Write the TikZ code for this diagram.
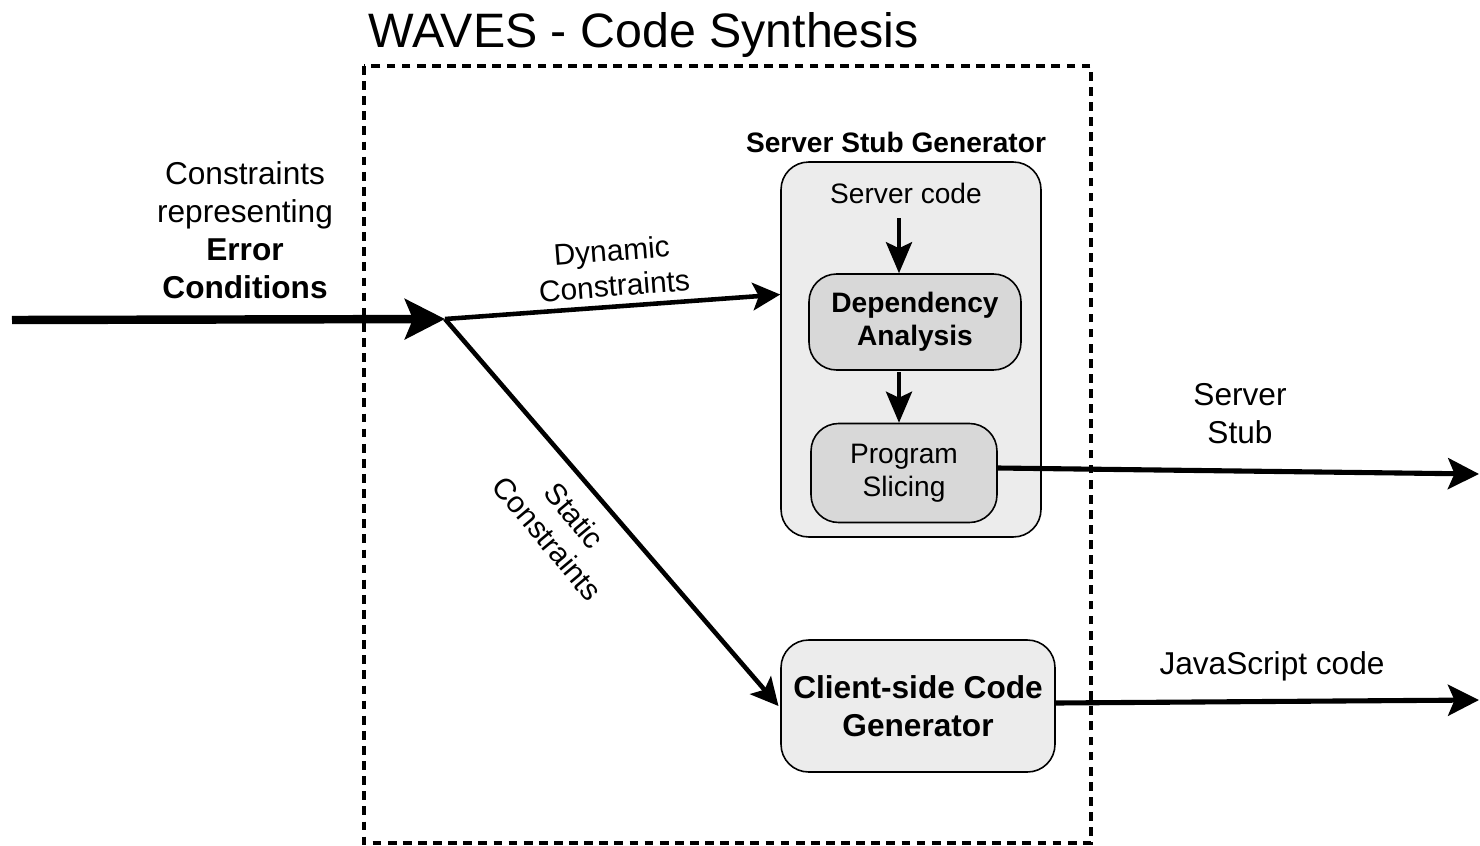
\documentclass[tikz,border=0pt]{standalone}
\usepackage{fontspec}
\setmainfont{Liberation Sans}
\usetikzlibrary{arrows.meta,calc}
\definecolor{outerfill}{RGB}{236,236,236}
\definecolor{innerfill}{RGB}{216,216,216}
\begin{document}
\begin{tikzpicture}[x=0.02cm,y=-0.02cm,
  lbl/.style={font=\fontsize{18}{21.6}\selectfont, align=center, inner sep=0pt},
  smalllbl/.style={font=\fontsize{16}{19}\selectfont, align=center, inner sep=0pt},
  rbox/.style={draw, line width=0.9pt, rounded corners=0.55cm, align=center, inner sep=0pt},
  bigarrow/.style={line width=4.8pt, -{Stealth[length=0.8cm, width=0.8cm, inset=0.16cm]}},
  midarrow/.style={line width=2.6pt, -{Stealth[length=0.55cm, width=0.55cm, inset=0.12cm]}},
  outarrow/.style={line width=2.9pt, -{Stealth[length=0.62cm, width=0.62cm, inset=0.13cm]}},
  vertarrow/.style={line width=2.4pt, -{Stealth[length=0.62cm, width=0.52cm, inset=0.12cm]}}
]
\useasboundingbox (0,0) rectangle (1480,845);

% dashed container
\draw[line width=2pt, dash pattern=on 5pt off 3.6pt] (364,66) rectangle (1091,843);
\node[anchor=base west, font=\fontsize{27.5}{32}\selectfont, inner sep=0pt] (title) at (368,47) {WAVES - Code Synthesis};

% server stub generator
\node[font=\fontsize{16}{19}\selectfont\bfseries, inner sep=0pt] (ssgt) at (896,142) {Server Stub Generator};
\node[rbox, fill=outerfill, minimum width=5.2cm, minimum height=7.5cm] (SSG) at (911,349.5) {};
\node[smalllbl] (SC) at (906,193) {Server code};
\node[rbox, fill=innerfill, minimum width=4.24cm, minimum height=1.92cm, font=\fontsize{16}{19}\selectfont\bfseries] (DA) at (915,322) {Dependency\\Analysis};
\node[rbox, fill=innerfill, minimum width=3.72cm, minimum height=1.98cm, font=\fontsize{16}{19}\selectfont] (PS) at (904,473) {Program\\Slicing};

% client side
\node[rbox, fill=outerfill, minimum width=5.48cm, minimum height=2.64cm, font=\fontsize{18}{21.6}\selectfont\bfseries] (CCG) at (918,706) {Client-side Code\\Generator};

% coordinates
\coordinate (in) at (12,320);
\coordinate (j) at (445,319);
\coordinate (o1) at (1479,474);
\coordinate (o2) at (1479,700);
\coordinate (v1) at (899,218);
\coordinate (v2) at (899,372);

% labels
\node[lbl] (cl) at (245,230) {Constraints\\representing\\\textbf{Error}\\\textbf{Conditions}};
\node[smalllbl, font=\fontsize{17}{20}\selectfont, rotate=4.5] (dl) at (613,268) {Dynamic\\Constraints};
\node[smalllbl, font=\fontsize{17}{20}\selectfont, rotate=-50] (sl) at (561,527) {Static\\Constraints};
\node[lbl] (stl) at (1240,414) {Server\\Stub};
\node[lbl] (jsl) at (1272,666) {JavaScript code};

% connectors
\draw[bigarrow] (in) -- (j);
\draw[midarrow] (j) -- ([yshift=1.1cm]SSG.west);
\draw[midarrow] (j) -- ([xshift=-1pt]CCG.west);
\draw[vertarrow] (v1) -- (v1 |- DA.north);
\draw[vertarrow] (v2) -- (v2 |- PS.north);
\draw[outarrow] ([yshift=0.1cm]PS.east) -- (o1);
\draw[outarrow] ([yshift=0.06cm]CCG.east) -- (o2);
\end{tikzpicture}
\end{document}
